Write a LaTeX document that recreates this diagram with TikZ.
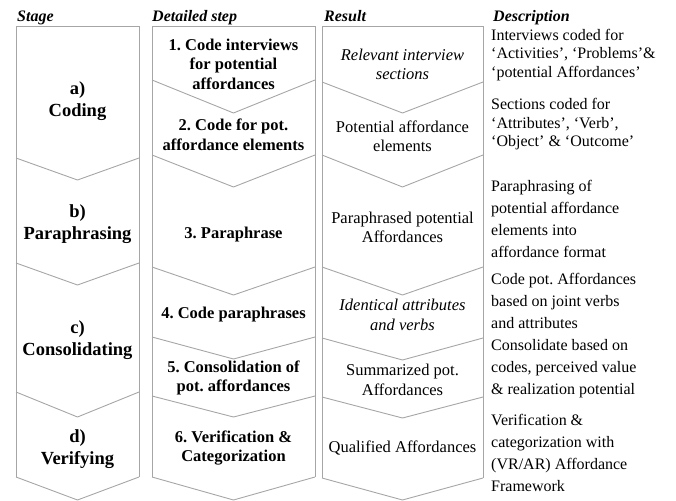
\documentclass[tikz,border=0pt]{standalone}
\usepackage{fontspec}
\setmainfont{Liberation Serif}
\usepackage{xcolor}
\usetikzlibrary{positioning}
\frenchspacing
\definecolor{chevgray}{HTML}{A6A6A6}
\definecolor{inkblack}{HTML}{000000}
\tikzset{
  chevline/.style={draw=chevgray,line width=0.9pt,line join=miter},
  headnode/.style={anchor=base west,inner sep=0pt,font=\fontsize{16}{18}\selectfont\bfseries\itshape,text=inkblack},
  stagenode/.style={align=center,inner sep=0pt,font=\fontsize{18.5}{22}\selectfont\bfseries,text=inkblack},
  stepnode/.style={align=center,inner sep=0pt,font=\fontsize{16.5}{19.5}\selectfont\bfseries,text=inkblack},
  resnode/.style={align=center,inner sep=0pt,font=\fontsize{16.5}{19}\selectfont,text=inkblack},
  descnode/.style={anchor=west,align=left,inner sep=0pt,font=\fontsize{16}{22}\selectfont,text=inkblack},
}

\begin{document}
\begin{tikzpicture}[x=1pt,y=-1pt]
    \useasboundingbox (0,0) rectangle (676,500);
    % column headers
    \node[headnode] (hstage) at (17,22) {Stage};
    \node[headnode] (hstep) at (152,22) {Detailed step};
    \node[headnode] (hres) at (324,22) {Result};
    \node[headnode] (hdesc) at (493,22) {Description};
    % stage chevrons
    \draw[chevline] (16,477) -- (16,26) -- (139,26) -- (139,477);
    \foreach \e/\t in {158/180,263/285,392/417,477/500}
      \draw[chevline] (16,\e) -- (77.5,\t) -- (139,\e);
    % detailed step chevrons
    \draw[chevline] (152,477) -- (152,26) -- (315,26) -- (315,477);
    \foreach \e/\t in {80/113,155/187,267/295,337/359,396/417,477/500}
      \draw[chevline] (152,\e) -- (233.5,\t) -- (315,\e);
    % result chevrons
    \draw[chevline] (322,478) -- (322,26) -- (483,26) -- (483,478);
    \foreach \e/\t in {82/113,155/187,267/295,338/360,397/418,478/500}
      \draw[chevline] (322,\e) -- (402.5,\t) -- (483,\e);
    % stages
    \node[stagenode] (sa) at (77.5,101) {a)\\Coding};
    \node[stagenode] (sb) at (77.5,224) {b)\\Paraphrasing};
    \node[stagenode] (sc) at (77.5,340) {c)\\Consolidating};
    \node[stagenode] (sd) at (77.5,449) {d)\\Verifying};
    % detailed steps
    \node[stepnode] (d1) at (233.5,64) {1. Code interviews\\for potential\\affordances};
    \node[stepnode] (d2) at (233.5,135) {2. Code for pot.\\affordance elements};
    \node[stepnode] (d3) at (233.5,235) {3. Paraphrase};
    \node[stepnode] (d4) at (233.5,315) {4. Code paraphrases};
    \node[stepnode] (d5) at (233.5,378) {5. Consolidation of\\pot. affordances};
    \node[stepnode] (d6) at (233.5,448) {6. Verification \&\\Categorization};
    % results
    \node[resnode,font=\fontsize{16.5}{19}\selectfont\itshape] (r1) at (402.5,64) {Relevant interview\\sections};
    \node[resnode] (r2) at (402.5,136) {Potential affordance\\elements};
    \node[resnode] (r3) at (402.5,227) {Paraphrased potential\\Affordances};
    \node[resnode,font=\fontsize{16.5}{20}\selectfont\itshape] (r4) at (402.5,315) {Identical attributes\\and verbs};
    \node[resnode,font=\fontsize{16.5}{20}\selectfont] (r5) at (402.5,380) {Summarized pot.\\Affordances};
    \node[resnode] (r6) at (402.5,448) {Qualified Affordances};
    % descriptions
    \node[descnode,font=\fontsize{16}{18.2}\selectfont] (t1) at (491,55) {Interviews coded for\\`Activities', `Problems'\&\\`potential Affordances'};
    \node[descnode,font=\fontsize{16}{18.5}\selectfont] (t2) at (491,124.5) {Sections coded for\\`Attributes', `Verb',\\`Object' \& `Outcome'};
    \node[descnode] (t3) at (491,219) {Paraphrasing of\\potential affordance\\elements into\\affordance format};
    \node[descnode] (t4) at (491,301) {Code pot. Affordances\\based on joint verbs\\and attributes};
    \node[descnode] (t5) at (491,369) {Consolidate based on\\codes, perceived value\\\& realization potential};
    \node[descnode] (t6) at (491,453) {Verification \&\\categorization with\\(VR/AR) Affordance\\Framework};
  \end{tikzpicture}
\end{document}
